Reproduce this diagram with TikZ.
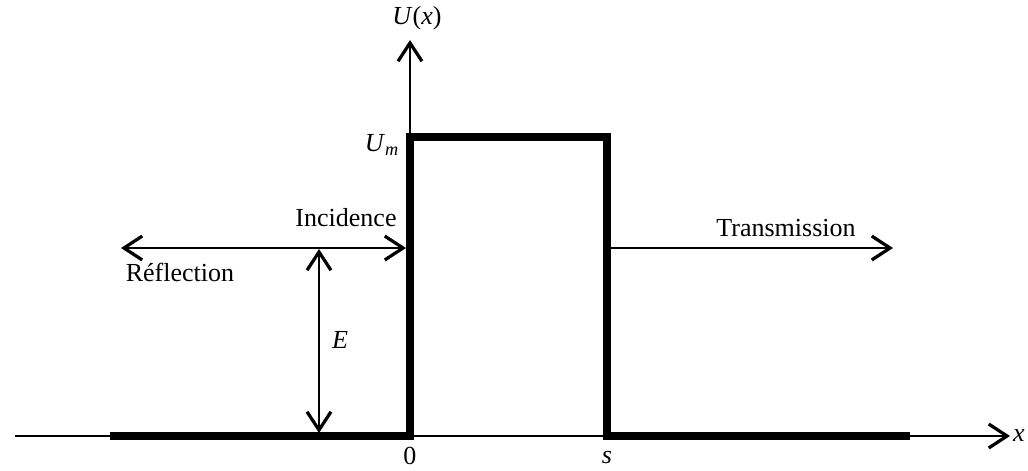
\documentclass[tikz,border=0pt]{standalone}
\usepackage{fontspec}
\setmainfont{Liberation Serif}
\usepackage{tikz}
\usetikzlibrary{arrows.meta, positioning}

\tikzset{
  barb/.tip={Straight Barb[length=13pt,width=17pt,line width=2.3pt]},
  thin axis/.style={line width=1.5pt, -barb},
  potential/.style={line width=5pt, line cap=butt, line join=miter},
  wave/.style={line width=1.5pt, -barb},
  both wave/.style={line width=1.5pt, barb-barb},
  lbl/.style={font=\fontsize{18.5}{20}\selectfont, inner sep=0pt}
}

\begin{document}
\begin{tikzpicture}[x=0.025cm, y=-0.025cm]
  \useasboundingbox (0,0) rectangle (1028,470);

  % axes
  \coordinate (xstart) at (15,436);
  \coordinate (xend) at (1010,436);
  \coordinate (origin) at (410,436);
  \coordinate (ytop) at (410,40);
  \draw[thin axis] (xstart) -- (xend);
  \draw[thin axis] (origin) -- (ytop);

  % barrier
  \draw[potential] (110,436) -- (410,436) -- (410,137) -- (607,137)
                   -- (607,436) -- (910,436);

  % waves
  \coordinate (refl) at (121,248);
  \coordinate (inc) at (406,248);
  \coordinate (trs) at (610,248);
  \coordinate (trend) at (893,248);
  \coordinate (etop) at (319,249);
  \coordinate (ebot) at (319,433);
  \draw[both wave] (refl) -- (inc);
  \draw[wave] (trs) -- (trend);
  \draw[both wave] (etop) -- (ebot);

  % labels
  \node[lbl] (ux) at (417,18) {\textit{U}(\textit{x})};
  \node[lbl] (um) at (382,145) {\textit{U}\textsubscript{\textit{m}}};
  \node[lbl] (incl) at (346,218) {Incidence};
  \node[lbl] (refll) at (180,272) {Réflection};
  \node[lbl] (trsl) at (786,228) {Transmission};
  \node[lbl] (el) at (340,340) {\textit{E}};
  \node[lbl] (zero) at (410,456) {0};
  \node[lbl] (sl) at (607,457) {\textit{s}};
  \node[lbl] (xl) at (1019,436) {\textit{x}};
\end{tikzpicture}
\end{document}
